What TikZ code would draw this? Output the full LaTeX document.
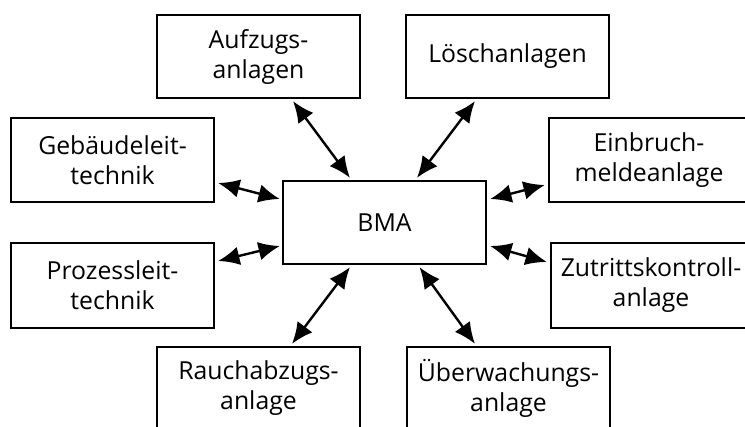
\documentclass[tikz,border=0pt]{standalone}
\usepackage{fontspec}
\setmainfont{Open Sans}
\usetikzlibrary{arrows.meta,calc}
\begin{document}
\begin{tikzpicture}[x=0.75pt,y=-0.75pt,
  box/.style={draw,line width=1.7pt,minimum width=203*0.75pt,minimum height=83*0.75pt,
    inner sep=0pt,align=center,font=\fontsize{18.6}{22.5}\selectfont},
  link/.style={line width=1.8pt,{Latex[length=16pt,width=14pt]}-{Latex[length=16pt,width=14pt]}}]
\useasboundingbox (0,0) rectangle (745,427);
\clip (0,0) rectangle (745,427);
% central unit
\node[box] (bma) at (384.5,222.5) {BMA};
% connected systems
\node[box] (aufz) at (258.5,56.5) {Aufzugs-\\anlagen};
\node[box] (loesch) at (507.5,56.5) {Löschanlagen};
\node[box,minimum height=84*0.75pt] (geb) at (112.5,160) {Gebäudeleit-\\technik};
\node[box,minimum height=85*0.75pt] (proz) at (112.5,285.5) {Prozessleit-\\technik};
\node[box,minimum width=200*0.75pt,minimum height=84*0.75pt] (einb) at (649,160) {Einbruch-\\meldeanlage};
\node[box,minimum width=200*0.75pt,minimum height=85*0.75pt] (zutr) at (651,285.5) {Zutrittskontroll-\\anlage};
\node[box] (rauch) at (258.5,388.5) {Rauchabzugs-\\anlage};
\node[box] (ueber) at (508.5,388.5) {Überwachungs-\\anlage};
% links
\draw[link] ($(aufz.south)+(34.5,2)$) -- ($(bma.north)+(-34.5,-2)$);
\draw[link] ($(bma.north)+(32.5,-2)$) -- ($(loesch.south)+(-32.5,2)$);
\draw[link] ($(geb.east)+(3,23)$) -- ($(bma.west)+(-2,-23.5)$);
\draw[link] ($(proz.east)+(3,-24.5)$) -- ($(bma.west)+(-2,23.5)$);
\draw[link] ($(bma.east)+(3,-23.5)$) -- ($(einb.west)+(-3,25)$);
\draw[link] ($(bma.east)+(3,23.5)$) -- ($(zutr.west)+(-3,-23.5)$);
\draw[link] ($(rauch.north)+(33.5,-2)$) -- ($(bma.south)+(-34.5,2)$);
\draw[link] ($(bma.south)+(35,2)$) -- ($(ueber.north)+(-33.5,-2)$);
\end{tikzpicture}
\end{document}
